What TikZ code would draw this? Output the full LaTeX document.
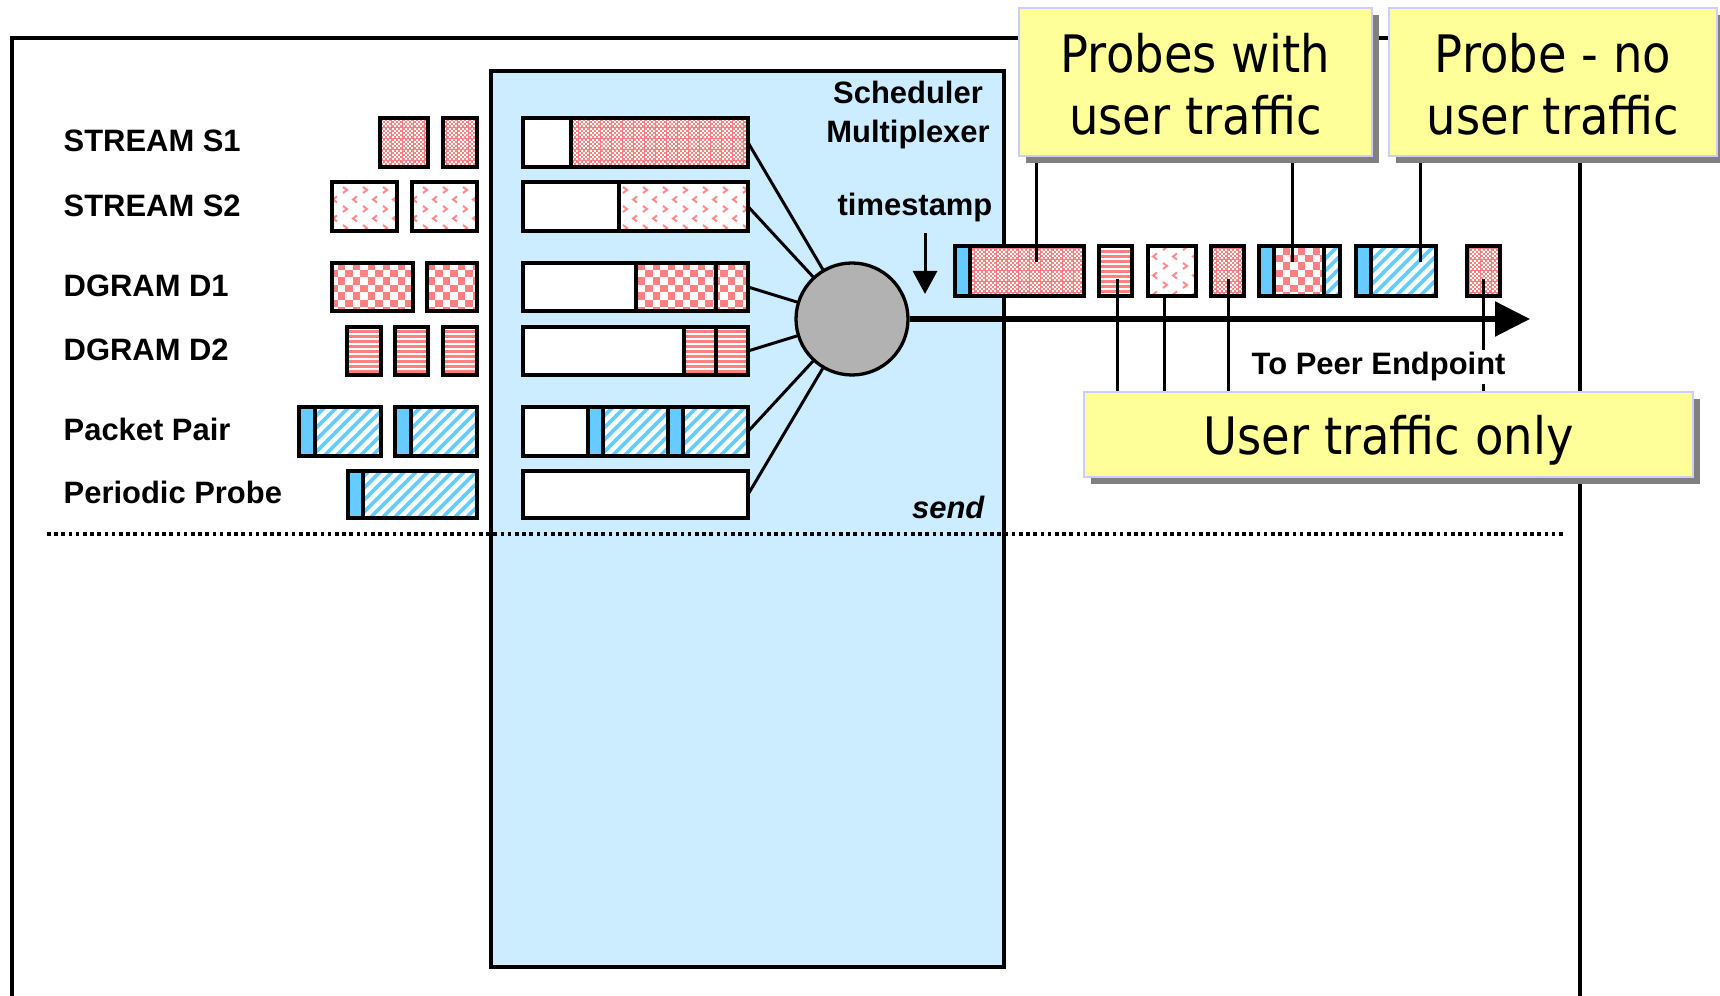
\documentclass[tikz,border=0pt]{standalone}
\usepackage{fontspec}
\setmainfont{Liberation Sans}
\newfontfamily\tah[FakeStretch=0.9]{DejaVu Sans}
\usetikzlibrary{arrows.meta,shadows}
\definecolor{pk}{RGB}{255,128,128}
\definecolor{pkl}{RGB}{255,140,140}
\definecolor{pb}{RGB}{102,204,255}
\definecolor{schb}{RGB}{204,236,255}
\definecolor{yel}{RGB}{255,255,153}
\definecolor{lav}{RGB}{204,204,255}
\definecolor{shd}{RGB}{128,128,128}
\definecolor{circ}{RGB}{178,178,178}
\pgfdeclarelayer{front}
\pgfsetlayers{main,front}
\newcommand\lbf{\fontsize{8.8}{10.5}\selectfont\bfseries}
\newcommand\ytxt{\tah\fontsize{14.7}{17.6}\selectfont}
% checkerboard
\newcommand\chk[5]{%
  \pgfmathtruncatemacro\ia{floor(#1/#5)}%
  \pgfmathtruncatemacro\ib{ceil(#3/#5)}%
  \pgfmathtruncatemacro\ja{floor(#2/#5)}%
  \pgfmathtruncatemacro\jb{ceil(#4/#5)}%
  \foreach \i in {\ia,...,\ib}{\foreach \j in {\ja,...,\jb}{%
    \pgfmathtruncatemacro\pp{mod(\i+\j,2)}%
    \ifnum\pp=0 \fill[pk] (\i*#5,\j*#5) rectangle ++(#5,#5);\fi}}}
% fine: pink ground with small white squares on a checker grid
\newcommand\patfine[4]{%
  \fill[pk] (#1,#2) rectangle (#3,#4);
  \pgfmathtruncatemacro\ia{floor(#1/2.2)}%
  \pgfmathtruncatemacro\ib{ceil(#3/2.2)}%
  \pgfmathtruncatemacro\ja{floor(#2/2.2)}%
  \pgfmathtruncatemacro\jb{ceil(#4/2.2)}%
  \foreach \i in {\ia,...,\ib}{\foreach \j in {\ja,...,\jb}{%
    \pgfmathtruncatemacro\pp{mod(\i+\j,2)}%
    \ifnum\pp=0 \fill[white] (\i*2.2,\j*2.2) rectangle ++(2,2);\fi}}}
\newcommand\patcoarse[4]{\chk{#1}{#2}{#3}{#4}{7.5}}
\newcommand\patstripe[4]{%
  \pgfmathtruncatemacro\ja{floor(#2/5)-1}%
  \pgfmathtruncatemacro\jb{ceil(#4/5)}%
  \foreach \j in {\ja,...,\jb}{\fill[pk] (#1,\j*5) rectangle (#3,\j*5+2.6);}}
\newcommand\patdiag[4]{%
  \pgfmathtruncatemacro\ia{floor((#1+#2)/12)-1}%
  \pgfmathtruncatemacro\ib{ceil((#3+#4)/12)+1}%
  \foreach \k in {\ia,...,\ib}{\draw[pb,line width=0.37mm] ({12*\k-#4-5},{#4+5}) -- ({12*\k-#2+5},{#2-5});}}
\newcommand\patchev[4]{%
  \pgfmathtruncatemacro\ia{floor(#1/20)-1}%
  \pgfmathtruncatemacro\ib{ceil(#3/20)}%
  \pgfmathtruncatemacro\ja{floor(#2/9.5)-1}%
  \pgfmathtruncatemacro\jb{ceil(#4/9.5)}%
  \foreach \i in {\ia,...,\ib}{\foreach \j in {\ja,...,\jb}{%
    \pgfmathtruncatemacro\pp{mod(\j,2)}%
    \ifnum\pp=0 \draw[chev] (\i*20+3,\j*9.5-3) -- ++(4,3) -- ++(-4,3);%
    \else \draw[chev] (\i*20+17,\j*9.5-3) -- ++(-4,3) -- ++(4,3);\fi}}}
\newcommand\patblue[4]{\fill[pb] (#1,#2) rectangle (#3,#4);}
\newcommand\patwhite[4]{}
\newcommand\pkt[5]{%
  \begin{scope}
    \clip (#1,#2) rectangle (#3,#4);
    \fill[white] (#1,#2) rectangle (#3,#4);
    \csname pat#5\endcsname{#1}{#2}{#3}{#4}
  \end{scope}
  \draw[pkline] (#1,#2) rectangle (#3,#4);}
\begin{document}
\begin{tikzpicture}[x=0.1mm,y=-0.1mm,
  pkline/.style={draw=black,line width=0.33mm},
  lead/.style={line width=0.3mm},
  lbl/.style={font=\lbf,anchor=base west,inner sep=0},
  btxt/.style={font=\lbf,anchor=base,inner sep=0},
  ybox/.style={draw=lav,line width=0.25mm,fill=yel,inner sep=0,
     drop shadow={shadow xshift=0.7mm,shadow yshift=-0.7mm,fill=shd,opacity=1}},
  ytext/.style={font=\ytxt,align=center,inner sep=0},
  chev/.style={draw=pkl,line width=0.2mm}]
\useasboundingbox (0,0) rectangle (1720,996);
% outer frame
\draw[line width=0.45mm] (12,1100) -- (12,38) -- (1580,38) -- (1580,1100);
% scheduler box
\node[draw,line width=0.4mm,fill=schb,minimum width=51.3mm,minimum height=89.6mm,inner sep=0] (sched) at (747.5,519) {};
% dotted separator
\coordinate (dl) at (47,534);
\coordinate (dr) at (1563,534);
\draw[line width=0.36mm,dash pattern=on 0.36mm off 0.36mm] (dl) -- (dr);
% labels
\node[lbl] (ls1) at (63,152) {STREAM S1};
\node[lbl] (ls2) at (63,217) {STREAM S2};
\node[lbl] (ld1) at (63,297) {DGRAM D1};
\node[lbl] (ld2) at (63,361) {DGRAM D2};
\node[lbl] (lpp) at (63,441) {Packet Pair};
\node[lbl] (lpd) at (63,504) {Periodic Probe};
\node[btxt] (sch) at (908,104) {Scheduler};
\node[btxt] (mpx) at (908,143) {Multiplexer};
\node[btxt] (ts) at (915,216) {timestamp};
\node[font=\lbf\itshape,anchor=base east,inner sep=0] (snd) at (985,519) {send};
% incoming packets
\pkt{380}{118}{428}{167}{fine}
\pkt{443}{118}{477}{167}{fine}
\pkt{332}{182}{397}{231}{chev}
\pkt{412}{182}{477}{231}{chev}
\pkt{332}{263}{413}{311}{coarse}
\pkt{427}{263}{477}{311}{coarse}
\pkt{347}{327}{381}{375}{stripe}
\pkt{395}{327}{428}{375}{stripe}
\pkt{443}{327}{477}{375}{stripe}
\pkt{299}{407}{315}{456}{blue}
\pkt{315}{407}{381}{456}{diag}
\pkt{395}{407}{411}{456}{blue}
\pkt{411}{407}{477}{456}{diag}
\pkt{348}{471}{363}{518}{blue}
\pkt{363}{471}{477}{518}{diag}
% queues
\pkt{523}{118}{571}{167}{white}
\pkt{571}{118}{748}{167}{fine}
\pkt{523}{182}{619}{231}{white}
\pkt{619}{182}{748}{231}{chev}
\pkt{523}{263}{636}{311}{white}
\pkt{636}{263}{716}{311}{coarse}
\pkt{716}{263}{748}{311}{coarse}
\pkt{523}{327}{684}{375}{white}
\pkt{684}{327}{716}{375}{stripe}
\pkt{716}{327}{748}{375}{stripe}
\pkt{523}{407}{588}{456}{white}
\pkt{588}{407}{603}{456}{blue}
\pkt{603}{407}{668}{456}{diag}
\pkt{668}{407}{683}{456}{blue}
\pkt{683}{407}{748}{456}{diag}
\pkt{523}{471}{748}{518}{white}
\coordinate (q1) at (748,142.5);
\coordinate (q2) at (748,206.5);
\coordinate (q3) at (748,287);
\coordinate (q4) at (748,351);
\coordinate (q5) at (748,431.5);
\coordinate (q6) at (748,494.5);
% multiplexer
\node[circle,draw,fill=circ,line width=0.33mm,minimum size=11.2mm,inner sep=0] (mux) at (852,319) {};
\foreach \q in {q1,q2,q3,q4,q5,q6} \draw[lead] (\q) -- (mux);
% output
\coordinate (peer) at (1530,319);
\draw[line width=0.55mm,-{Triangle[length=3.5mm,width=3.4mm]}] (mux.east) -- (peer);
\coordinate (tsa) at (925,233);
\coordinate (tsb) at (925,294);
\draw[lead,-{Triangle[length=2.3mm,width=2.4mm]}] (tsa) -- (tsb);
% outgoing packets
\pkt{955}{246}{970}{296}{blue}
\pkt{970}{246}{1084}{296}{fine}
\pkt{1099}{246}{1132}{296}{stripe}
\pkt{1148}{246}{1196}{296}{chev}
\pkt{1211}{246}{1244}{296}{fine}
\pkt{1259}{246}{1274}{296}{blue}
\pkt{1274}{246}{1324}{296}{coarse}
\pkt{1324}{246}{1340}{296}{diag}
\pkt{1356}{246}{1371}{296}{blue}
\pkt{1371}{246}{1436}{296}{diag}
\pkt{1467}{246}{1500}{296}{fine}
\coordinate (p1) at (1036,262);
\coordinate (p5) at (1292,262);
\coordinate (p6) at (1420,262);
\coordinate (p2) at (1117,279);
\coordinate (p3) at (1164,296);
\coordinate (p4) at (1228,279);
\coordinate (p7) at (1483,279);
% callouts
\begin{pgfonlayer}{front}
\node[ybox,minimum width=35.3mm,minimum height=14.8mm] (yb1) at (1195.5,82) {};
\node[ytext] (yt1) at ([yshift=-0.25mm]yb1.center) {Probes with\\user traffic};
\node[ybox,minimum width=32.8mm,minimum height=14.8mm] (yb2) at (1553,82) {};
\node[ytext] (yt2) at ([yshift=-0.25mm]yb2.center) {Probe - no\\user traffic};
\node[ybox,minimum width=60.9mm,minimum height=8.5mm] (yb3) at (1388.5,434.5) {};
\node[ytext,text depth=0pt] (yt3) at (yb3.center) {User traffic only};
\node[font=\lbf,anchor=base west,fill=white,inner xsep=0,inner ysep=0.3mm] (peertxt) at (1251,375) {To Peer Endpoint};
\end{pgfonlayer}
\draw[lead] (yb1.south -| p1) -- (p1);
\draw[lead] (yb1.south -| p5) -- (p5);
\draw[lead] (yb2.south -| p6) -- (p6);
\draw[lead] (yb3.north -| p2) -- (p2);
\draw[lead] (yb3.north -| p3) -- (p3);
\draw[lead] (yb3.north -| p4) -- (p4);
\draw[lead] (yb3.north -| p7) -- (p7);
\end{tikzpicture}
\end{document}
